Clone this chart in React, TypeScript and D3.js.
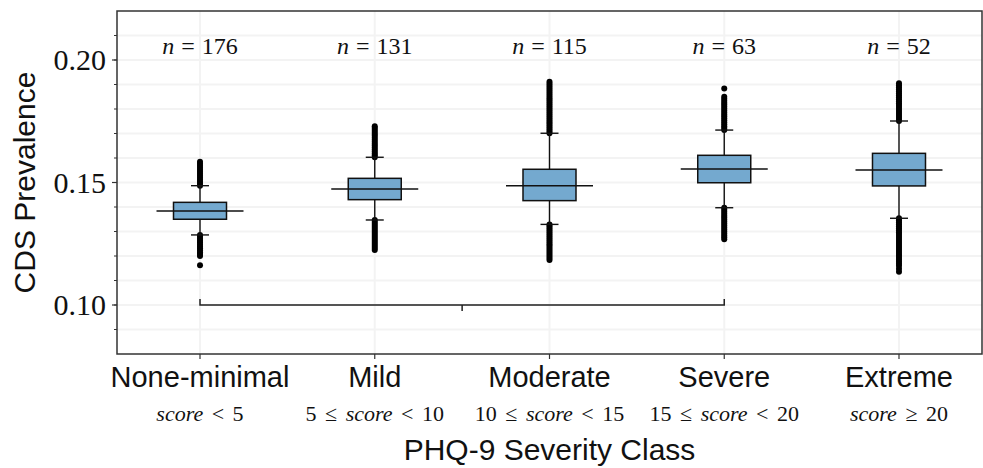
import React from 'react';
import * as d3 from 'd3';

// PHQ-9 classes and their score ranges
const categories = ['None-minimal', 'Mild', 'Moderate', 'Severe', 'Extreme'];
const rangeLeft = ['', '5 \u2264 ', '10 \u2264 ', '15 \u2264 ', ''];
const rangeRight = [' < 5', ' < 10', ' < 15', ' < 20', ' \u2265 20'];
const counts = [176, 131, 115, 63, 52];

// box statistics
const q1 = [0.1350, 0.1430, 0.1426, 0.1499, 0.1486];
const medians = [0.1384, 0.1473, 0.1487, 0.1555, 0.1551];
const q3 = [0.1419, 0.1517, 0.1554, 0.1611, 0.1619];
const whiskerLow = [0.1286, 0.1347, 0.1329, 0.1397, 0.1354];
const whiskerHigh = [0.1487, 0.1603, 0.1701, 0.1714, 0.1751];
// dense runs of outliers, drawn as a chain of dots
const fliersHighTop = [0.1585, 0.1730, 0.1911, 0.1850, 0.1905];
const fliersLowBottom = [0.1200, 0.1224, 0.1184, 0.1268, 0.1160];
const loneFliers = [[0.1162], [], [], [0.1884], [0.1148, 0.1136]];

const yTicks = [0.10, 0.15, 0.20];
const yDomain = [0.08, 0.22];
const bracket = { from: 0, to: 3, value: 0.10 };

const W = 983;
const H = 468;
const margin = { top: 11, right: 1, bottom: 114, left: 117 };

const App = () => {
  const x = d3.scaleLinear().domain([-0.475, 4.475]).range([margin.left, W - margin.right]);
  const y = d3.scaleLinear().domain(yDomain).range([H - margin.bottom, margin.top]);
  const minorTicks = d3.range(8, 23).map(v => v / 100).filter(v => v > yDomain[0] && v < yDomain[1]);

  const boxW = 53;
  const medW = 87;
  const capW = 18;
  const fill = '#74a9cf';
  const serif = '"Liberation Serif", "Times New Roman", serif';
  const sans = '"Liberation Sans", Arial, sans-serif';

  const plotLeft = margin.left;
  const plotRight = W - margin.right;
  const plotTop = margin.top;
  const plotBottom = H - margin.bottom;

  // dot chain between two values (screen spacing 2px)
  const chain = (a: number, b: number) => {
    const y0 = y(a);
    const y1 = y(b);
    const n = Math.max(1, Math.round(Math.abs(y1 - y0) / 2));
    return d3.range(n + 1).map(k => y0 + ((y1 - y0) * k) / n);
  };

  return (
    <svg width={W} height={H} style={{ position: 'absolute', left: 0, top: 0, background: '#fff' }}>
      {/* grid */}
      <g stroke="#f3f3f3" strokeWidth={2}>
        {minorTicks.map(t => (
          <line key={'h' + t} x1={plotLeft} x2={plotRight} y1={y(t)} y2={y(t)} />
        ))}
        {categories.map((c, i) => (
          <line key={'v' + c} x1={x(i)} x2={x(i)} y1={plotTop} y2={plotBottom} />
        ))}
      </g>

      {/* n labels */}
      {counts.map((n, i) => (
        <text key={'n' + i} x={x(i)} y={54} textAnchor="middle" fontFamily={serif} fontSize={24} fill="#111" style={{ wordSpacing: '1px' }}>
          <tspan fontStyle="italic">n</tspan> = {n}
        </text>
      ))}

      {/* bracket */}
      <g stroke="#222" strokeWidth={1.5} fill="none">
        <path d={`M${x(bracket.from)},${y(bracket.value) - 6}V${y(bracket.value)}H${x(bracket.to)}V${y(bracket.value) - 6}`} />
        <line x1={(x(bracket.from) + x(bracket.to)) / 2} x2={(x(bracket.from) + x(bracket.to)) / 2} y1={y(bracket.value)} y2={y(bracket.value) + 6} />
      </g>

      {/* boxes */}
      {categories.map((c, i) => {
        const cx = x(i);
        const dots = [
          ...chain(whiskerHigh[i], fliersHighTop[i]),
          ...chain(whiskerLow[i], fliersLowBottom[i]),
          ...loneFliers[i].map(v => y(v)),
        ];
        return (
          <g key={c}>
            {dots.map((dy, k) => (
              <circle key={k} cx={cx} cy={dy} r={3} fill="#000" />
            ))}
            <g stroke="#111" strokeWidth={1.4}>
              <line x1={cx} x2={cx} y1={y(q3[i])} y2={y(whiskerHigh[i])} />
              <line x1={cx} x2={cx} y1={y(q1[i])} y2={y(whiskerLow[i])} />
              <line x1={cx - capW / 2} x2={cx + capW / 2} y1={y(whiskerHigh[i])} y2={y(whiskerHigh[i])} />
              <line x1={cx - capW / 2} x2={cx + capW / 2} y1={y(whiskerLow[i])} y2={y(whiskerLow[i])} />
            </g>
            <rect x={cx - boxW / 2} y={y(q3[i])} width={boxW} height={y(q1[i]) - y(q3[i])} fill={fill} stroke="#111" strokeWidth={1.5} />
            <line x1={cx - medW / 2} x2={cx + medW / 2} y1={y(medians[i])} y2={y(medians[i])} stroke="#111" strokeWidth={1.5} />
          </g>
        );
      })}

      {/* frame */}
      <rect x={plotLeft} y={plotTop} width={plotRight - plotLeft} height={plotBottom - plotTop} fill="none" stroke="#333" strokeWidth={1.5} />

      {/* y axis */}
      {minorTicks.map(t => (
        <line key={'mt' + t} x1={plotLeft - 3} x2={plotLeft} y1={y(t)} y2={y(t)} stroke="#333" strokeWidth={1} />
      ))}
      {yTicks.map(t => (
        <g key={'yt' + t}>
          <line x1={plotLeft - 5} x2={plotLeft} y1={y(t)} y2={y(t)} stroke="#333" strokeWidth={1.2} />
          <text x={plotLeft - 11} y={y(t) + 10} textAnchor="end" fontFamily={serif} fontSize={30} fill="#111">
            {d3.format('.2f')(t)}
          </text>
        </g>
      ))}
      <text transform={`translate(35,${(plotTop + plotBottom) / 2}) rotate(-90)`} textAnchor="middle" fontFamily={sans} fontSize={30} fill="#111">
        CDS Prevalence
      </text>

      {/* x axis */}
      {categories.map((c, i) => (
        <g key={'xt' + c}>
          <line x1={x(i)} x2={x(i)} y1={plotBottom} y2={plotBottom + 5} stroke="#333" strokeWidth={1.2} />
          <text x={x(i)} y={387} textAnchor="middle" fontFamily={sans} fontSize={29} fill="#111">
            {c}
          </text>
          <text x={x(i)} y={421} textAnchor="middle" fontFamily={serif} fontSize={22} fill="#111" style={{ whiteSpace: 'pre', wordSpacing: '3px' }}>
            {rangeLeft[i]}
            <tspan fontStyle="italic">score</tspan>
            {rangeRight[i]}
          </text>
        </g>
      ))}
      <text x={(plotLeft + plotRight) / 2} y={460} textAnchor="middle" fontFamily={sans} fontSize={30} fill="#111">
        PHQ-9 Severity Class
      </text>
    </svg>
  );
};

export default App;
